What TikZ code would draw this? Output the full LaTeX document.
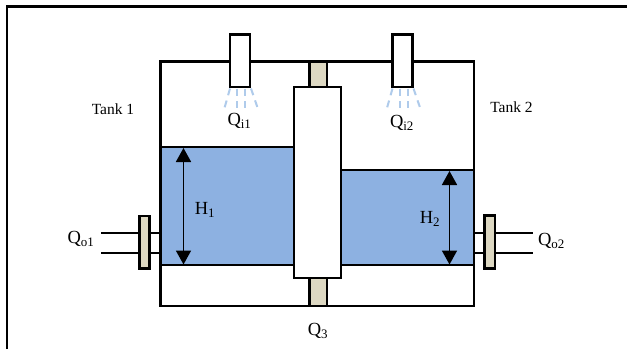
\documentclass[tikz,border=0pt]{standalone}
\usepackage{fontspec}
\setmainfont{Liberation Serif}
\usetikzlibrary{arrows.meta}

\begin{document}
\begin{tikzpicture}[
      x=1pt, y=-1pt,
      >={Triangle[length=14pt,width=15pt]},
      every node/.style={font=\fontsize{15.5}{17}\selectfont, inner sep=0pt},
      wall/.style={draw=black, line width=2.2pt},
      tankbox/.style={wall, fill=white},
      waterbox/.style={wall, fill=waterblue},
      valvebox/.style={wall, fill=valvetan},
      pipe/.style={draw=black, line width=2pt},
      level/.style={<->, draw=black, line width=1.7pt},
      spray/.style={draw=sprayblue, line width=2pt, dash pattern=on 7pt off 5.5pt},
      qlabel/.style={font=\fontsize{18.5}{20}\selectfont}
    ]
      \definecolor{waterblue}{RGB}{141,177,225}
      \definecolor{valvetan}{RGB}{221,216,194}
      \definecolor{sprayblue}{RGB}{175,203,235}
      \useasboundingbox (0,0) rectangle (627,349);

      % frame
      \draw[line width=2.4pt] (7,349) -- (7,6.5) -- (627,6.5);

      % tank body and water
      \draw[tankbox] (160.5,61.5) rectangle (474,306);
      \draw[waterbox] (160.5,147) rectangle (294,265);
      \draw[waterbox] (341,170) rectangle (474,265);

      % connecting pipe and column
      \draw[valvebox] (309.5,61.5) rectangle (327,306);
      \draw[tankbox] (294,87) rectangle (341,278);

      % inlets
      \draw[tankbox] (230,34.5) rectangle (250,87);
      \draw[tankbox] (392.5,34.5) rectangle (412.5,87);
      \foreach \offs in {0,162.5} {
        \draw[spray] (230+\offs,88.5) -- (224.5+\offs,108);
        \draw[spray] (237+\offs,88.5) -- (237+\offs,108);
        \draw[spray] (245+\offs,88.5) -- (245+\offs,108);
        \draw[spray] (251+\offs,88.5) -- (258+\offs,109);
      }

      % outlets
      \draw[pipe] (101,232.5) -- (160.5,232.5);
      \draw[pipe] (101,253) -- (160.5,253);
      \draw[pipe] (474,232.5) -- (533,232.5);
      \draw[pipe] (474,252.5) -- (533,252.5);
      \draw[valvebox] (139.5,216) rectangle (149.5,268.5);
      \draw[valvebox] (484.5,215.5) rectangle (495,268.5);

      % levels
      \coordinate (leveltopa) at (183.5,148);
      \coordinate (levelbota) at (183.5,264.5);
      \coordinate (leveltopb) at (449.5,171);
      \coordinate (levelbotb) at (449.5,264.5);
      \draw[level] (leveltopa) -- (levelbota);
      \draw[level] (leveltopb) -- (levelbotb);

      \node (tanka) at (113,109) {Tank 1};
      \node (tankb) at (511.5,107) {Tank 2};
      \node[qlabel] (qia) at (239.5,121) {Q\textsubscript{i1}};
      \node[qlabel] (qib) at (402,123) {Q\textsubscript{i2}};
      \node[qlabel] (ha) at (205,210) {H\textsubscript{1}};
      \node[qlabel] (hb) at (430,219) {H\textsubscript{2}};
      \node[qlabel] (qoa) at (81,239) {Q\textsubscript{o1}};
      \node[qlabel] (qob) at (551.5,241) {Q\textsubscript{o2}};
      \node[qlabel] (qc) at (318,331) {Q\textsubscript{3}};
    \end{tikzpicture}
\end{document}
